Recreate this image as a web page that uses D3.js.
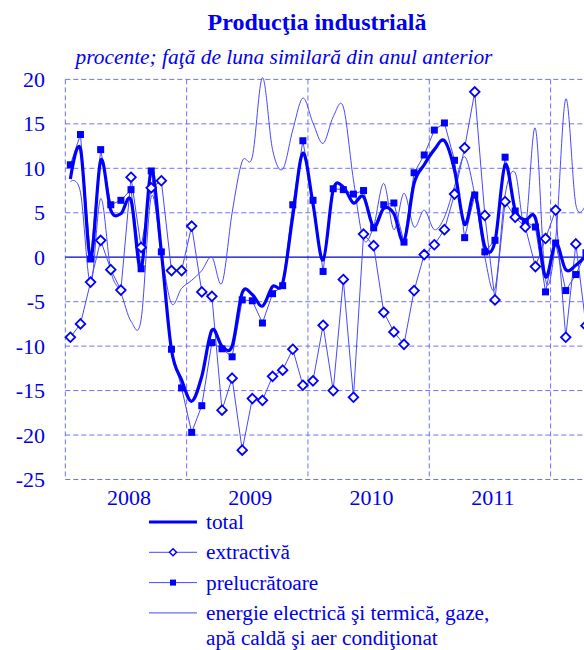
<!DOCTYPE html>
<html>
<head>
<meta charset="utf-8">
<script src="https://cdn.jsdelivr.net/npm/d3@7"></script>
<style>
  body { margin: 0; background: #fff; }
  svg { display: block; font-family: "Liberation Serif", "Times New Roman", serif; }
</style>
</head>
<body>
<svg width="584" height="650"></svg>
<script>
// years shown under the axis, data starts Jan 2008 and runs to Apr 2012
var years = ["2008", "2009", "2010", "2011"];
var yTicks = [20, 15, 10, 5, 0, -5, -10, -15, -20, -25];

var total = [
  8.8, 12.2, -0.1, 10.9, 5.3, 4.9, 6.4, -1.4, 9.8, 0.6, -10.4, -13.8,
  -16.2, -13.4, -8.2, -10.0, -10.0, -4.0, -4.2, -5.5, -3.3, -2.9, 4.6, 11.7,
  6.0, -0.3, 7.6, 7.9, 6.1, 6.8, 3.4, 5.5, 4.9, 1.8, 8.3, 10.4,
  12.1, 13.1, 9.8, 3.7, 7.2, 1.2, 1.75, 10.4, 5.3, 4.2, 4.4, -2.2,
  1.6, -1.4, -0.9, 0.2
];
var extractiva = [
  -9.0, -7.5, -2.8, 1.9, -1.4, -3.7, 9.0, 1.1, 7.8, 8.6, -1.5, -1.5,
  3.5, -3.9, -4.4, -17.2, -13.6, -21.7, -15.9, -16.1, -13.4, -12.7, -10.35, -14.4,
  -13.9, -7.65, -15.0, -2.5, -15.75, 2.6, 1.3, -6.2, -8.4, -9.8, -3.75, 0.3,
  1.4, 3.1, 7.1, 12.3, 18.6, 4.7, -4.8, 6.25, 4.5, 3.4, -1.05, 2.1,
  5.3, -9.0, 1.5, -7.7
];
var prelucratoare = [
  10.4, 13.8, -0.2, 12.1, 5.9, 6.4, 7.6, -1.3, 9.7, 0.6, -10.35, -14.7,
  -19.7, -16.7, -9.6, -10.3, -11.2, -4.8, -4.9, -7.4, -4.1, -3.2, 5.9, 13.1,
  6.4, -1.6, 7.7, 7.6, 7.1, 7.5, 3.3, 5.9, 6.1, 1.7, 9.5, 11.5,
  14.3, 15.1, 10.9, 2.2, 7.0, 0.6, 1.9, 11.25, 5.2, 4.0, 3.4, -3.9,
  1.6, -3.75, -1.95, 0.5
];
var energie = [
  8.5, 7.3, -3.0, 6.6, -1.5, -4.0, -7.2, -7.0, 6.8, 0.5, -5.2, -3.5,
  -2.6, -1.5, 0.0, -2.9, 5.0, 10.8, 11.3, 20.2, 12.1, 9.9, 14.3, 17.9,
  15.1, 12.8, 15.8, 16.9, 8.7, 2.0, 3.5, 8.3, 3.1, 7.2, 3.4, 5.3,
  3.1, 4.5, 8.0, 11.3, 7.0, 0.0, -3.5, 7.0, 9.5, 3.5, 14.5, -2.5,
  2.0, 17.8, 5.9, 6.0
];

var blue = "#0000ee";
var gridColor = "#7070ff";

var svg = d3.select("svg");
var plotLeft = 65.3, plotTop = 79.4, plotBottom = 479.5;

// one unit = one month, plot runs past the right edge of the picture
var x = d3.scaleLinear().domain([0, 60]).range([plotLeft, plotLeft + 60 * 10.11]);
var y = d3.scaleLinear().domain([-25, 20]).range([plotBottom, plotTop]);
var xm = function(i) { return x(i + 0.5); };

svg.append("rect").attr("width", 584).attr("height", 650).attr("fill", "#fff");

// titles
svg.append("text")
  .attr("x", 317).attr("y", 30)
  .attr("text-anchor", "middle")
  .attr("font-size", 24).attr("font-weight", "bold")
  .attr("fill", blue)
  .text("Producţia industrială");

svg.append("text")
  .attr("x", 284).attr("y", 64)
  .attr("text-anchor", "middle")
  .attr("font-size", 21.4).attr("font-style", "italic")
  .attr("fill", blue)
  .text("procente; faţă de luna similară din anul anterior");

// horizontal grid
var g = svg.append("g");
g.selectAll(".hgrid")
  .data(yTicks.filter(function(d) { return d != 0; }))
  .enter()
  .append("line")
  .attr("x1", plotLeft).attr("x2", 584)
  .attr("y1", function(d) { return y(d); })
  .attr("y2", function(d) { return y(d); })
  .attr("stroke", gridColor).attr("stroke-width", 1)
  .attr("stroke-dasharray", "5,3");

// vertical grid at year boundaries
g.selectAll(".vgrid")
  .data([0, 12, 24, 36, 48])
  .enter()
  .append("line")
  .attr("x1", function(d) { return x(d); })
  .attr("x2", function(d) { return x(d); })
  .attr("y1", plotTop).attr("y2", plotBottom)
  .attr("stroke", gridColor).attr("stroke-width", 1)
  .attr("stroke-dasharray", "5,3");

// zero line
g.append("line")
  .attr("x1", plotLeft).attr("x2", 584)
  .attr("y1", y(0)).attr("y2", y(0))
  .attr("stroke", "#0000c8").attr("stroke-width", 1.3);

// y labels
svg.selectAll(".ylab")
  .data(yTicks)
  .enter()
  .append("text")
  .attr("x", 45)
  .attr("y", function(d) { return y(d) + 7.5; })
  .attr("text-anchor", "end")
  .attr("font-size", 22)
  .attr("fill", blue)
  .text(function(d) { return d; });

// year labels
svg.selectAll(".xlab")
  .data(years)
  .enter()
  .append("text")
  .attr("x", function(d, i) { return xm(i * 12 + 5.5) + 3; })
  .attr("y", 505)
  .attr("text-anchor", "middle")
  .attr("font-size", 22)
  .attr("fill", blue)
  .text(function(d) { return d; });

var smooth = d3.line()
  .x(function(d, i) { return xm(i); })
  .y(function(d) { return y(d); })
  .curve(d3.curveCardinal.tension(0));

var straight = d3.line()
  .x(function(d, i) { return xm(i); })
  .y(function(d) { return y(d); });

// energie - thin smooth line
svg.append("path")
  .attr("d", smooth(energie))
  .attr("fill", "none")
  .attr("stroke", "#4848ff").attr("stroke-width", 1);

// extractiva
svg.append("path")
  .attr("d", straight(extractiva))
  .attr("fill", "none")
  .attr("stroke", "#4848ff").attr("stroke-width", 1);

// prelucratoare
svg.append("path")
  .attr("d", straight(prelucratoare))
  .attr("fill", "none")
  .attr("stroke", "#4848ff").attr("stroke-width", 1);

svg.selectAll(".sq")
  .data(prelucratoare)
  .enter()
  .append("rect")
  .attr("x", function(d, i) { return xm(i) - 3.5; })
  .attr("y", function(d) { return y(d) - 3.5; })
  .attr("width", 7).attr("height", 7)
  .attr("fill", "#0000ff");

// total - thick smooth line
svg.append("path")
  .attr("d", smooth(total))
  .attr("fill", "none")
  .attr("stroke", "#0000ff").attr("stroke-width", 3.2)
  .attr("stroke-linejoin", "round");

var diamond = "M0,-4.8L4.8,0L0,4.8L-4.8,0Z";
svg.selectAll(".dia")
  .data(extractiva)
  .enter()
  .append("path")
  .attr("d", diamond)
  .attr("transform", function(d, i) { return "translate(" + xm(i) + "," + y(d) + ")"; })
  .attr("fill", "#fff")
  .attr("stroke", "#0000ff").attr("stroke-width", 1.8);

// legend
var legend = [
  {name: "total", type: "total"},
  {name: "extractivă", type: "dia"},
  {name: "prelucrătoare", type: "sq"},
  {name: "energie electrică şi termică, gaze,", type: "thin"}
];
var lg = svg.append("g");
legend.forEach(function(d, i) {
  var ly = 522 + i * 30.3;
  lg.append("line")
    .attr("x1", 149).attr("x2", 197)
    .attr("y1", ly).attr("y2", ly)
    .attr("stroke", d.type == "total" ? "#0000ff" : "#4848ff")
    .attr("stroke-width", d.type == "total" ? 3 : 1);
  if (d.type == "dia") {
    lg.append("path").attr("d", "M0,-3.5L3.5,0L0,3.5L-3.5,0Z")
      .attr("transform", "translate(173," + ly + ")")
      .attr("fill", "#fff").attr("stroke", "#0000ff").attr("stroke-width", 1.5);
  }
  if (d.type == "sq") {
    lg.append("rect").attr("x", 170).attr("y", ly - 3).attr("width", 6).attr("height", 6)
      .attr("fill", "#0000ff");
  }
  lg.append("text")
    .attr("x", 206).attr("y", ly + 7)
    .attr("font-size", 21.3)
    .attr("fill", blue)
    .text(d.name);
});
lg.append("text")
  .attr("x", 206).attr("y", 645)
  .attr("font-size", 21.3)
  .attr("fill", blue)
  .text("apă caldă şi aer condiţionat");
</script>
</body>
</html>
